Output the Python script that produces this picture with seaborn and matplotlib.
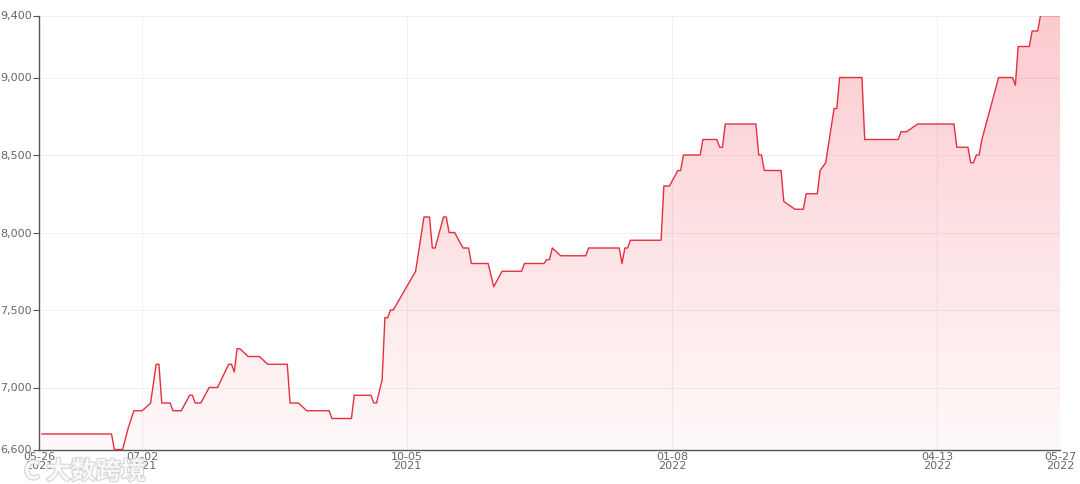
import numpy as np
import pandas as pd
import seaborn as sns
import matplotlib
matplotlib.use("Agg")
import matplotlib.pyplot as plt
import matplotlib.dates as mdates
import matplotlib.patheffects as pe

# breakpoints
dates = [
    "2021-05-27", "2021-06-21", "2021-06-22", "2021-06-25", "2021-06-27", "2021-06-29",
    "2021-07-02", "2021-07-05", "2021-07-07", "2021-07-08", "2021-07-09", "2021-07-12",
    "2021-07-13", "2021-07-16", "2021-07-19", "2021-07-20", "2021-07-21", "2021-07-23",
    "2021-07-26", "2021-07-29", "2021-08-02", "2021-08-03", "2021-08-04", "2021-08-05",
    "2021-08-06", "2021-08-09", "2021-08-13", "2021-08-16", "2021-08-23", "2021-08-24",
    "2021-08-27", "2021-08-30", "2021-09-07", "2021-09-08", "2021-09-15", "2021-09-16",
    "2021-09-22", "2021-09-23", "2021-09-24", "2021-09-26", "2021-09-27", "2021-09-28",
    "2021-09-29", "2021-09-30", "2021-10-08", "2021-10-11", "2021-10-13", "2021-10-14",
    "2021-10-15", "2021-10-18", "2021-10-19", "2021-10-20", "2021-10-22", "2021-10-25",
    "2021-10-27", "2021-10-28", "2021-11-03", "2021-11-05", "2021-11-08", "2021-11-15",
    "2021-11-16", "2021-11-23", "2021-11-24", "2021-11-25", "2021-11-26", "2021-11-29",
    "2021-12-08", "2021-12-09", "2021-12-20", "2021-12-21", "2021-12-22", "2021-12-23",
    "2021-12-24", "2022-01-04", "2022-01-05", "2022-01-07", "2022-01-10", "2022-01-11",
    "2022-01-12", "2022-01-18", "2022-01-19", "2022-01-24", "2022-01-25", "2022-01-26",
    "2022-01-27", "2022-02-07", "2022-02-08", "2022-02-09", "2022-02-10", "2022-02-16",
    "2022-02-17", "2022-02-21", "2022-02-24", "2022-02-25", "2022-03-01", "2022-03-02",
    "2022-03-04", "2022-03-07", "2022-03-08", "2022-03-09", "2022-03-17", "2022-03-18",
    "2022-03-30", "2022-03-31", "2022-04-02", "2022-04-06", "2022-04-19", "2022-04-20",
    "2022-04-24", "2022-04-25", "2022-04-26", "2022-04-27", "2022-04-28", "2022-04-29",
    "2022-05-05", "2022-05-10", "2022-05-11", "2022-05-12", "2022-05-16", "2022-05-17",
    "2022-05-19", "2022-05-20", "2022-05-27",
]
prices = [
    6700, 6700, 6600, 6600, 6740, 6850,
    6850, 6900, 7150, 7150, 6900, 6900,
    6850, 6850, 6950, 6950, 6900, 6900,
    7000, 7000, 7150, 7150, 7100, 7250,
    7250, 7200, 7200, 7150, 7150, 6900,
    6900, 6850, 6850, 6800, 6800, 6950,
    6950, 6900, 6900, 7050, 7450, 7450,
    7500, 7500, 7750, 8100, 8100, 7900,
    7900, 8100, 8100, 8000, 8000, 7900,
    7900, 7800, 7800, 7650, 7750, 7750,
    7800, 7800, 7825, 7825, 7900, 7850,
    7850, 7900, 7900, 7800, 7900, 7900,
    7950, 7950, 8300, 8300, 8400, 8400,
    8500, 8500, 8600, 8600, 8550, 8550,
    8700, 8700, 8500, 8500, 8400, 8400,
    8200, 8150, 8150, 8250, 8250, 8400,
    8450, 8800, 8800, 9000, 9000, 8600,
    8600, 8650, 8650, 8700, 8700, 8550,
    8550, 8450, 8450, 8500, 8500, 8600,
    9000, 9000, 8950, 9200, 9200, 9300,
    9300, 9400, 9400,
]

tick_dates = ["2021-05-26", "2021-07-02", "2021-10-05", "2022-01-08", "2022-04-13", "2022-05-27"]
tick_labels = ["05-26\n2021", "07-02\n2021", "10-05\n2021", "01-08\n2022", "04-13\n2022", "05-27\n2022"]
y_ticks = [6600, 7000, 7500, 8000, 8500, 9000, 9400]

df = pd.DataFrame({"date": pd.to_datetime(dates), "price": prices})

sns.set_style("white")
plt.rcParams["font.family"] = ["DejaVu Sans"]

fig = plt.figure(figsize=(10.8, 4.84), dpi=100)
ax = fig.add_axes([39 / 1080, 34.5 / 484, 1021 / 1080, 434 / 484])

x0 = mdates.date2num(pd.Timestamp("2021-05-26"))
x1 = mdates.date2num(pd.Timestamp("2022-05-27"))
ymin, ymax = 6600, 9400

# gradient fill under the line
grad = np.linspace(0, 1, 256).reshape(-1, 1)
rgba = np.zeros((256, 1, 4))
rgba[..., 0] = 0.96
rgba[..., 1] = 0.18
rgba[..., 2] = 0.25
rgba[..., 3] = 0.03 + 0.22 * grad
img = ax.imshow(rgba, extent=[x0, x1, ymin, ymax], origin="lower", aspect="auto", zorder=1)
poly = ax.fill_between(mdates.date2num(df["date"]), df["price"], ymin, color="none")
clip = poly.get_paths()[0]
img.set_clip_path(clip, transform=ax.transData)

sns.lineplot(data=df, x="date", y="price", ax=ax, color="#e3303f", linewidth=1.0, zorder=3)

ax.set_xlim(x0, x1)
ax.set_ylim(ymin, ymax)
ax.set_xticks(mdates.date2num(pd.to_datetime(tick_dates)))
ax.set_xticklabels(tick_labels)
ax.set_yticks(y_ticks)
ax.set_yticklabels([f"{v:,}" for v in y_ticks])
ax.set_xlabel("")
ax.set_ylabel("")

ax.grid(True, color="#f0f0f0", linewidth=0.8, zorder=0)
ax.set_axisbelow(True)
for s in ["top", "right"]:
    ax.spines[s].set_visible(False)
for s in ["left", "bottom"]:
    ax.spines[s].set_color("#555555")
    ax.spines[s].set_linewidth(1)
ax.tick_params(axis="y", length=4, width=0.8, color="#555555", labelsize=8,
               labelcolor="#666666", pad=1, left=True)
ax.tick_params(axis="x", length=0, labelsize=8, labelcolor="#666666", pad=2)
for lab in ax.get_xticklabels():
    lab.set_linespacing(0.85)

# watermark
fig.text(0.022, 0.01, "C 大数跨境", fontsize=18, fontweight="bold", color="white",
         family=["Noto Sans CJK SC", "DejaVu Sans"], alpha=0.75,
         path_effects=[pe.withStroke(linewidth=1.5, foreground="#c8c8c8")])

fig.savefig("out.png", dpi=100)
